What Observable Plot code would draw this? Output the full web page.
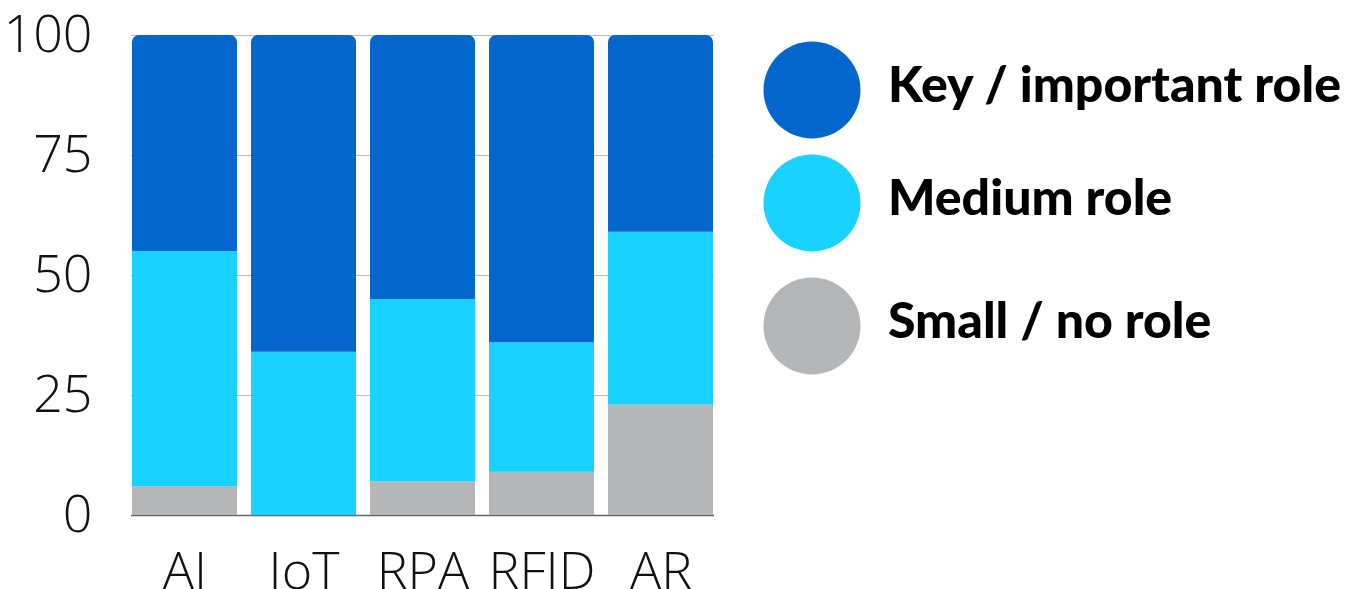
<!DOCTYPE html>
<html><head><meta charset="utf-8">
<script src="https://cdn.jsdelivr.net/npm/d3@7"></script>
<script src="https://cdn.jsdelivr.net/npm/@observablehq/plot@0.6"></script>
<style>
html,body{margin:0;padding:0;background:#fff;}
#wrap{position:relative;width:1349px;height:589px;overflow:hidden;}
#chart{position:absolute;left:0;top:0;}
#legend{position:absolute;left:0;top:0;}
</style></head><body>
<div id="wrap"><div id="chart"></div><svg id="legend" width="1349" height="589"></svg></div>
<script>
const categories = ["AI", "IoT", "RPA", "RFID", "AR"];
const roles = ["Key / important role", "Medium role", "Small / no role"];
const roleColors = ["#0366cc", "#1ad2ff", "#b5b6b8"];
const keyRole = [45, 66, 55, 64, 41];
const mediumRole = [49, 34, 38, 27, 36];
const smallRole = [6, 0, 7, 9, 23];
const yTicks = [0, 25, 50, 75, 100];

const rows = [];
categories.forEach((c, i) => {
  rows.push({category: c, role: roles[2], value: smallRole[i]});
  rows.push({category: c, role: roles[1], value: mediumRole[i]});
  rows.push({category: c, role: roles[0], value: keyRole[i]});
});
const stackOpts = {x: "category", y: "value", fill: "role", order: [roles[2], roles[1], roles[0]]};

const plot = Plot.plot({
  width: 740, height: 589,
  marginLeft: 131, marginRight: 26, marginTop: 35, marginBottom: 74,
  style: {fontFamily: "'Open Sans', sans-serif", fontSize: "52px", fontWeight: 300, color: "#111", background: "transparent", overflow: "visible"},
  x: {domain: categories, paddingInner: 0.12, paddingOuter: 0, label: null, tickSize: 0, tickPadding: 37},
  y: {domain: [0, 100], ticks: yTicks, label: null, tickSize: 0, tickPadding: 39},
  color: {domain: roles, range: roleColors},
  marks: [
    Plot.gridY(yTicks, {stroke: "#bbb", strokeOpacity: 1, strokeWidth: 1}),
    Plot.ruleY([0], {stroke: "#666", strokeWidth: 1.5}),
    Plot.barY(rows, Plot.filter(d => d.role !== roles[0], Plot.stackY(stackOpts))),
    Plot.barY(rows, Plot.filter(d => d.role === roles[0], Plot.stackY({...stackOpts, ry1: 7})))
  ]
});
document.getElementById("chart").appendChild(plot);

const lg = d3.select("#legend");
const cy = [90, 203, 326];
roles.forEach((r, i) => {
  lg.append("circle").attr("cx", 812).attr("cy", cy[i]).attr("r", 48.5).attr("fill", roleColors[i]);
  lg.append("text").attr("x", 888).attr("y", cy[i] + 12)
    .attr("font-family", "Lato, sans-serif").attr("font-weight", 900).attr("font-size", 50)
    .attr("fill", "#000").text(r);
});
</script>
</body></html>
